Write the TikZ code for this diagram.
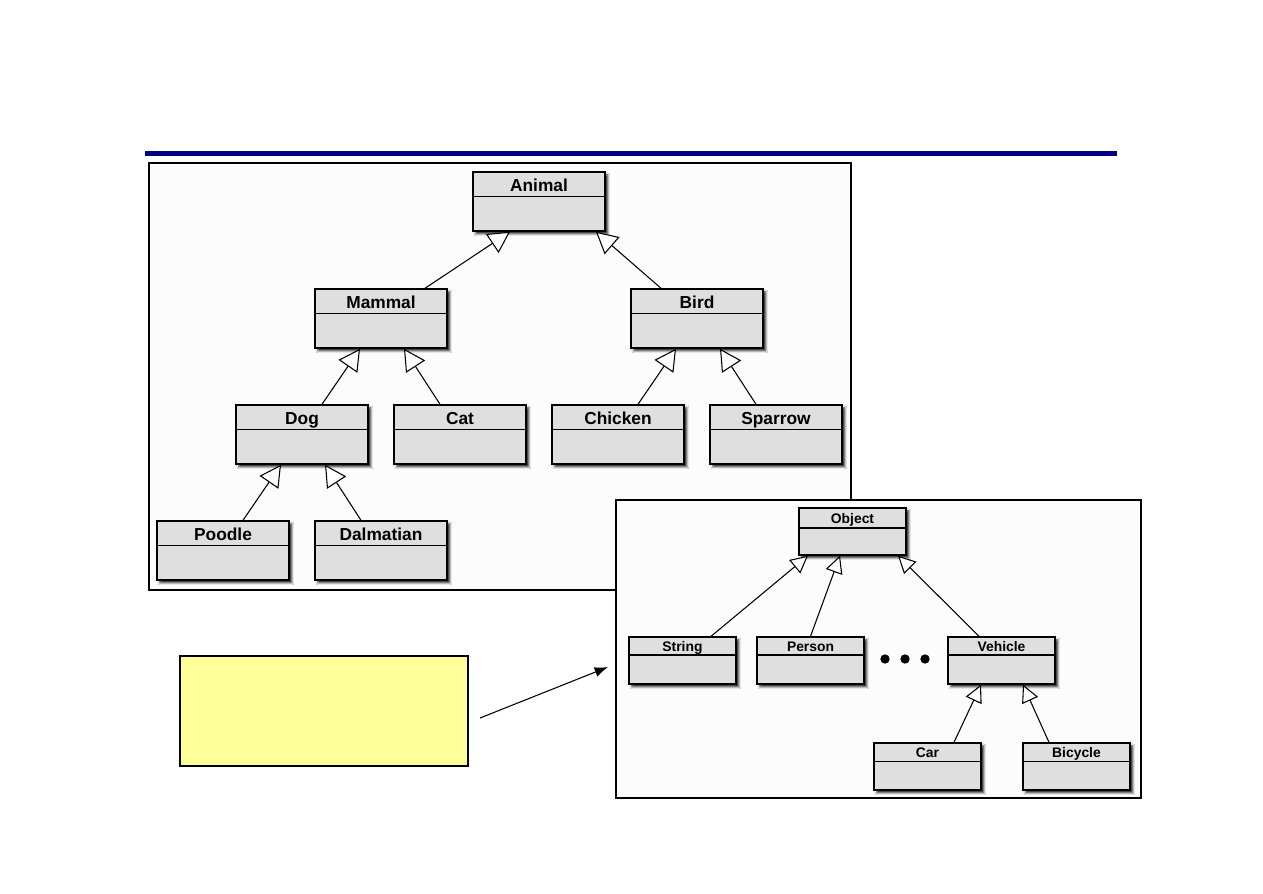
\documentclass[tikz,border=0pt]{standalone}
\usepackage{fontspec}
\setmainfont{Liberation Sans}
\usetikzlibrary{arrows.meta,calc,shadows,shadows.blur}
\definecolor{navybar}{RGB}{0,0,128}
\definecolor{clsfill}{RGB}{223,223,223}
\definecolor{panelfill}{RGB}{252,252,252}
\definecolor{notefill}{RGB}{255,255,153}
\newcommand{\umlbox}[7]{% #1 name, #2 x, #3 y, #4 style prefix, #5 divider px, #6 baseline px, #7 label
  \node[#4box] (#1) at (#2,#3) {};
  \draw[divline] ($(#1.north west)+(0,#5)$) -- ($(#1.north east)+(0,#5)$);
  \node[#4text] (#1-name) at ($(#1.north)+(0,#6)$) {#7};
}
\tikzset{
  shadowed/.style={blur shadow={shadow xshift=2.2pt,shadow yshift=-2.2pt,shadow blur radius=1.5pt,shadow opacity=80}},
  Abox/.style={draw=black,line width=1.1pt,fill=clsfill,minimum width=99pt,minimum height=44.25pt,inner sep=0pt,shadowed},
  Bbox/.style={draw=black,line width=1pt,fill=clsfill,minimum width=80.25pt,minimum height=35.25pt,inner sep=0pt,shadowed},
  Atext/.style={anchor=base,inner sep=0pt,font=\bfseries\fontsize{13}{15}\selectfont},
  Btext/.style={anchor=base,inner sep=0pt,font=\bfseries\fontsize{10.4}{12}\selectfont},
  divline/.style={line width=1pt},
  inhA/.style={draw,line width=0.8pt,-{Triangle[length=16pt,width=17pt,fill=white]}},
  inhB/.style={draw,line width=0.8pt,-{Triangle[length=13pt,width=13pt,fill=white]}},
  panel/.style={draw=black,line width=0.9pt,fill=panelfill},
}
\begin{document}
\begin{tikzpicture}[x=0.75pt,y=-0.75pt]
\useasboundingbox (0,0) rectangle (1263,893);
\fill[white] (0,0) rectangle (1263,893);
% title bar
\fill[navybar] (145,151) rectangle (1117,156);
% panel 1
\node[panel,minimum width=526.5pt,minimum height=320.25pt,inner sep=0pt] (panelA) at (500,376.5) {};
\umlbox{Animal}{539}{201.5}{A}{25}{20}{Animal}
\umlbox{Mammal}{381}{318.5}{A}{25}{20}{Mammal}
\umlbox{Bird}{697}{318.5}{A}{25}{20}{Bird}
\umlbox{Dog}{302}{434.5}{A}{25}{20}{Dog}
\umlbox{Cat}{460}{434.5}{A}{25}{20}{Cat}
\umlbox{Chicken}{618}{434.5}{A}{25}{20}{Chicken}
\umlbox{Sparrow}{776}{434.5}{A}{25}{20}{Sparrow}
\umlbox{Poodle}{223}{550.5}{A}{25}{20}{Poodle}
\umlbox{Dalmatian}{381}{550.5}{A}{25}{20}{Dalmatian}
\draw[inhA] ($(Mammal.north)+(44,0)$) -- ($(Animal.south)+(-29,0)$);
\draw[inhA] ($(Bird.north)+(-36,0)$) -- ($(Animal.south)+(57,0)$);
\draw[inhA] ($(Dog.north)+(20,0)$) -- ($(Mammal.south)+(-21,0)$);
\draw[inhA] ($(Cat.north)+(-20,0)$) -- ($(Mammal.south)+(23,0)$);
\draw[inhA] ($(Chicken.north)+(20,0)$) -- ($(Bird.south)+(-21,0)$);
\draw[inhA] ($(Sparrow.north)+(-20,0)$) -- ($(Bird.south)+(23,0)$);
\draw[inhA] ($(Poodle.north)+(20,0)$) -- ($(Dog.south)+(-21,0)$);
\draw[inhA] ($(Dalmatian.north)+(-20,0)$) -- ($(Dog.south)+(23,0)$);
% panel 2
\node[panel,minimum width=393.75pt,minimum height=223.5pt,inner sep=0pt] (panelB) at (878.5,649) {};
\umlbox{Object}{852.5}{531.5}{B}{20.5}{16}{Object}
\umlbox{String}{682.5}{660.5}{B}{18.5}{15.5}{String}
\umlbox{Person}{810.5}{660.5}{B}{18.5}{15.5}{Person}
\umlbox{Vehicle}{1001.5}{660.5}{B}{18.5}{15.5}{Vehicle}
\umlbox{Car}{927.5}{766.5}{B}{19}{15.5}{Car}
\umlbox{Bicycle}{1076.5}{766.5}{B}{19}{15.5}{Bicycle}
\draw[inhB] ($(String.north)+(28.5,0)$) -- ($(Object.south)+(-44.5,0)$);
\draw[inhB] ($(Person.north)+(0,0)$) -- ($(Object.south)+(-12.5,0)$);
\draw[inhB] ($(Vehicle.north)+(-22.5,0)$) -- ($(Object.south)+(45.5,0)$);
\draw[inhB] ($(Car.north)+(26.5,0)$) -- ($(Vehicle.south)+(-20.5,0)$);
\draw[inhB] ($(Bicycle.north)+(-27.5,0)$) -- ($(Vehicle.south)+(21.5,0)$);
\fill (885,659) circle (3.5pt) (905,659) circle (3.5pt) (925,659) circle (3.5pt);
% note
\node[draw=black,line width=0.9pt,fill=notefill,minimum width=216pt,minimum height=82.5pt,inner sep=0pt] (note) at (324,711) {};
\coordinate (pointerStart) at (480,718);
\coordinate (pointerEnd) at (608,667);
\draw[line width=0.8pt,-{Latex[length=10pt,width=7.5pt]}] (pointerStart) -- (pointerEnd);
\end{tikzpicture}
\end{document}
